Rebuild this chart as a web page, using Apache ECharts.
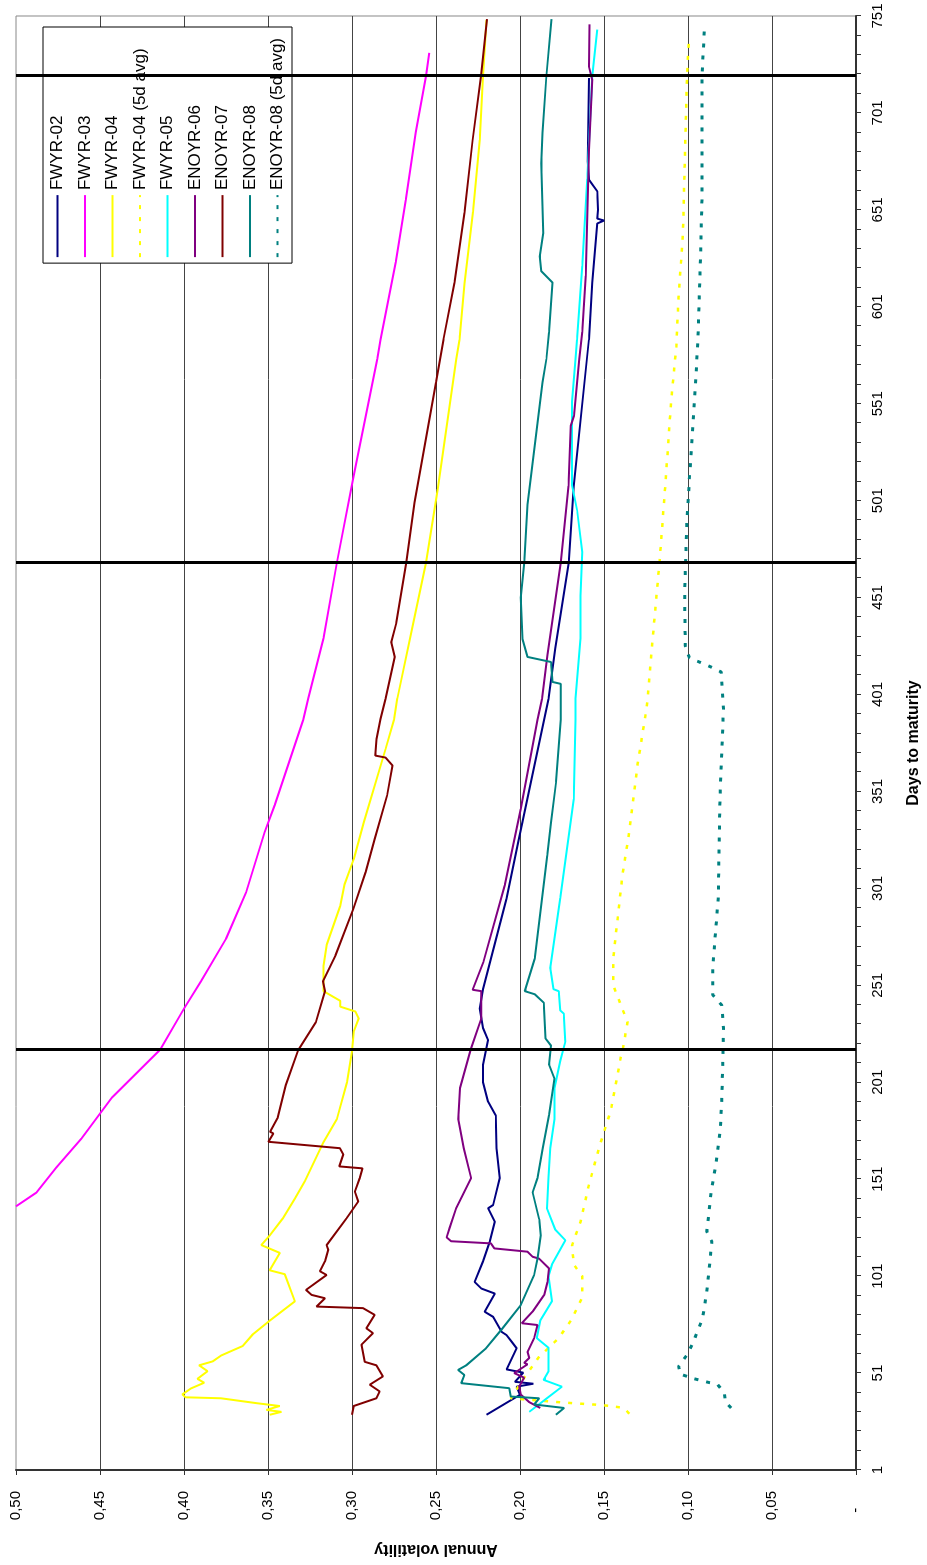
<!DOCTYPE html>
<html>
<head>
<meta charset="utf-8">
<script src="https://cdn.jsdelivr.net/npm/echarts@6/dist/echarts.min.js"></script>
<style>
html, body { margin: 0; padding: 0; background: #fff; overflow: hidden; }
#main {
    position: absolute; left: 0; top: 0;
    width: 1565px; height: 927px;
    transform-origin: 0 0;
    transform: translateY(1565px) rotate(-90deg);
}
</style>
</head>
<body>
<div id="main"></div>
<script>
// [days to maturity, annual volatility]
const fwyr02 = [[29.5,0.220],[39.8,0.200],[44,0.202],[45.5,0.192],[46.5,0.203],[51.2,0.198],[52.9,0.208],[63.8,0.202],[67.2,0.205],[70.6,0.208],[72.3,0.211],[80,0.216],[82.6,0.221],[92,0.215],[94.6,0.223],[98,0.227],[108.6,0.222],[118.8,0.218],[129,0.215],[136,0.219],[137.7,0.216],[151.6,0.212],[167,0.214],[184,0.2145],[191,0.219],[201,0.222],[210,0.222],[222.7,0.219],[229,0.222],[239,0.224],[249,0.222],[295.7,0.208],[325,0.201],[398.7,0.183],[424.8,0.179],[469,0.171],[508.6,0.168],[584,0.159],[613.5,0.157],[644,0.154],[645.5,0.150],[646.5,0.154],[651,0.1535],[660.6,0.154],[666.6,0.159],[676,0.1596],[719,0.159]];
const fwyr03 = [[137,0.500],[144,0.488],[157,0.476],[172,0.461],[193,0.443],[218,0.414],[239,0.400],[253,0.390],[275,0.375],[299,0.363],[330,0.352],[344,0.346],[388,0.329],[399,0.326],[430,0.317],[469,0.309],[514,0.299],[574,0.285],[584,0.283],[624,0.274],[656,0.268],[691,0.262],[720,0.256],[732,0.254]];
const fwyr04 = [[29.5,0.349],[31,0.342],[32,0.351],[34,0.343],[35.5,0.357],[38,0.378],[38.5,0.399],[40,0.401],[43,0.396],[46,0.388],[48,0.392],[52,0.386],[55,0.391],[57,0.383],[60,0.378],[65,0.365],[71,0.359],[78,0.349],[88,0.334],[102,0.340],[104,0.349],[113,0.343],[117,0.354],[122,0.349],[131,0.341],[141,0.334],[150,0.328],[170,0.317],[182,0.309],[201,0.303],[217,0.300],[227,0.299],[234,0.296],[237.5,0.298],[240,0.307],[243,0.307],[245,0.311],[248,0.317],[261,0.317],[272,0.315],[292,0.307],[303,0.3045],[316,0.299],[335,0.293],[373,0.280],[388,0.275],[399,0.273],[436,0.264],[469,0.256],[507,0.249],[574,0.238],[584,0.236],[613,0.233],[650,0.228],[687,0.224],[720,0.222],[749,0.220]];
const fwyr04Avg = [[30,0.135],[33,0.138],[34,0.146],[34.6,0.153],[35.5,0.169],[36,0.177],[38,0.2055],[48,0.198],[59,0.189],[69,0.177],[79,0.169],[90,0.163],[95,0.163],[101,0.163],[107,0.168],[117,0.169],[129,0.164],[148,0.159],[167,0.153],[181,0.148],[186,0.146],[200,0.143],[214,0.140],[217,0.139],[232,0.136],[251,0.1445],[265,0.1445],[308,0.139],[330,0.135],[365,0.130],[392,0.125],[399,0.124],[430,0.121],[469,0.117],[509,0.1135],[553,0.110],[580,0.107],[606,0.1056],[639,0.103],[674,0.102],[720,0.1006],[737,0.0996]];
const fwyr05 = [[31,0.1945],[38,0.184],[44,0.175],[47.5,0.186],[52,0.183],[64,0.183],[69,0.190],[78,0.188],[88,0.181],[101,0.183],[107,0.181],[119.5,0.173],[125,0.179],[136,0.184],[152,0.183],[167,0.182],[182,0.1795],[198,0.1795],[212,0.176],[222,0.173],[236.5,0.174],[238,0.176],[248,0.177],[249,0.180],[260,0.182],[296,0.176],[347,0.168],[388,0.167],[399,0.167],[430,0.164],[452,0.164],[474.5,0.163],[496,0.166],[509,0.169],[552,0.169],[574,0.167],[584,0.166],[622,0.163],[667,0.160],[720,0.157],[744,0.154]];
const enoyr06 = [[33,0.188],[36,0.1945],[40,0.1996],[44,0.2005],[48.6,0.1975],[51,0.2034],[55.5,0.1955],[56.3,0.1975],[58.8,0.1945],[62,0.1955],[69,0.1916],[75.8,0.1896],[76.7,0.1989],[82.7,0.1925],[91.3,0.1856],[98,0.1836],[105,0.1827],[110,0.1886],[111,0.1925],[113.6,0.1955],[115.3,0.2153],[117.9,0.2173],[119,0.241],[121,0.2437],[125.7,0.242],[136,0.238],[151.6,0.2291],[167,0.2335],[182,0.2367],[198,0.2357],[218,0.2293],[234,0.223],[248,0.223],[248.7,0.2282],[263,0.2218],[302.6,0.2091],[342,0.1996],[388,0.1896],[398.7,0.1869],[421.6,0.1836],[469,0.1757],[508.6,0.1712],[539.6,0.1698],[544.8,0.1679],[574,0.1648],[588,0.1629],[617,0.1609],[682,0.159],[718,0.157],[725,0.159],[746.7,0.1587]];
const enoyr07 = [[29.5,0.300],[34,0.299],[38,0.2855],[41.5,0.2835],[45,0.2894],[49.3,0.2816],[55,0.2855],[56.8,0.2924],[65.6,0.2944],[71.6,0.2875],[74.1,0.2914],[81,0.2865],[84.5,0.2935],[85.3,0.3211],[89.6,0.3161],[91.3,0.324],[93.9,0.3274],[101.6,0.3151],[103.5,0.3191],[108.6,0.3161],[114.6,0.3141],[117,0.3151],[130.8,0.3033],[139.5,0.2963],[144.6,0.2983],[151.6,0.2954],[156.6,0.2938],[157.6,0.3076],[163.7,0.3052],[167,0.3072],[170.3,0.3498],[174.6,0.3468],[175.5,0.3488],[182.4,0.3444],[199.5,0.3394],[217.5,0.3321],[232,0.3215],[248,0.3161],[253,0.3173],[266.5,0.3098],[290.5,0.2992],[309.6,0.2918],[326.6,0.2865],[349,0.2791],[364.4,0.2759],[368.5,0.2801],[369.5,0.2861],[378,0.2854],[388.4,0.283],[398.7,0.2801],[420.4,0.2746],[428,0.2766],[438,0.2736],[469,0.2677],[500,0.2628],[562,0.25],[584,0.2456],[613.5,0.239],[649.6,0.2331],[687,0.2282],[720,0.2232],[749.4,0.2196]];
const enoyr08 = [[29.5,0.1787],[33,0.1738],[34.8,0.1916],[38,0.1886],[38.9,0.2055],[43.2,0.2064],[45.8,0.235],[50,0.2331],[52.6,0.2369],[55,0.232],[63.8,0.2202],[74,0.2105],[86,0.1996],[101.6,0.1916],[110,0.1896],[122,0.1876],[130.4,0.1886],[144.2,0.1925],[151.6,0.1896],[167,0.1865],[184,0.1827],[203,0.1795],[210,0.1827],[220,0.1816],[223.6,0.1848],[242,0.1858],[246.4,0.1912],[248,0.1972],[264.8,0.1912],[318,0.1838],[335,0.1816],[356,0.1785],[388,0.1757],[406.5,0.1757],[407.5,0.1807],[417.8,0.1816],[420.4,0.1955],[429.6,0.1985],[451,0.1995],[469,0.1975],[499,0.1955],[562,0.1866],[574,0.1843],[587.8,0.1827],[613.5,0.1807],[619.4,0.1874],[627,0.1882],[639,0.1862],[675,0.1874],[690.8,0.1866],[720,0.1843],[749.4,0.1813]];
const enoyr08Avg = [[33,0.0743],[36.4,0.0779],[40.7,0.0783],[45,0.0823],[46.6,0.0897],[48.4,0.0977],[50.5,0.1046],[54.4,0.1056],[60.4,0.1006],[67.3,0.0967],[79.3,0.0913],[93,0.0888],[105,0.0874],[118.8,0.0858],[124,0.0888],[144.6,0.0862],[156.6,0.0838],[168.6,0.0819],[175.5,0.0809],[189,0.08],[208,0.0794],[229,0.0789],[240.7,0.0799],[246,0.0852],[261.5,0.0852],[295.7,0.082],[347,0.081],[393.6,0.0789],[412.6,0.0802],[415,0.0858],[420,0.0992],[426,0.1016],[453.8,0.102],[491.5,0.1006],[512,0.0992],[544.8,0.0967],[583,0.0941],[622,0.0927],[656,0.0917],[720,0.0917],[744.8,0.0902]];

const maturityDays = [218, 469, 720];
const dayLabels = [1, 51, 101, 151, 201, 251, 301, 351, 401, 451, 501, 551, 601, 651, 701, 751];
const dayTicks = [];
for (let d = 1; d <= 751; d += 10) dayTicks.push(d);

const font = '"Liberation Sans", Arial, sans-serif';
const chart = echarts.init(document.getElementById("main"));

function line(name, data, color, width, dash) {
    return {
        name: name,
        type: "line",
        data: data,
        showSymbol: false,
        symbol: "none",
        itemStyle: { color: color },
        lineStyle: { color: color, width: width, type: dash || "solid" },
        emphasis: { disabled: true },
    };
}

const series = [
    line("FWYR-02", fwyr02, "#000080", 2),
    line("FWYR-03", fwyr03, "#ff00ff", 2),
    line("FWYR-04", fwyr04, "#ffff00", 2),
    line("FWYR-04 (5d avg)", fwyr04Avg, "#ffff00", 2.5, [4, 8]),
    line("FWYR-05", fwyr05, "#00ffff", 2),
    line("ENOYR-06", enoyr06, "#800080", 2),
    line("ENOYR-07", enoyr07, "#800000", 2),
    line("ENOYR-08", enoyr08, "#008080", 2),
    line("ENOYR-08 (5d avg)", enoyr08Avg, "#008080", 3, [4, 8]),
];

series[0].markLine = {
    silent: true,
    animation: false,
    symbol: ["none", "none"],
    label: { show: false },
    lineStyle: { color: "#000", width: 3, type: "solid" },
    data: maturityDays.map(d => ({ xAxis: d })),
};

const option = {
    animation: false,
    backgroundColor: "#fff",
    textStyle: { fontFamily: font },
    grid: {
        left: 93, right: 16, top: 16, bottom: 69,
        show: true, borderColor: "#888", borderWidth: 1,
    },
    legend: {
        orient: "vertical",
        right: 27,
        top: 43,
        padding: [6, 11, 6, 5],
        itemWidth: 62,
        itemHeight: 14,
        itemGap: 10.5,
        selectedMode: false,
        backgroundColor: "#fff",
        borderColor: "#000",
        borderWidth: 1,
        borderRadius: 0,
        itemStyle: { opacity: 0, borderWidth: 0 },
        textStyle: { fontSize: 17, color: "#000", fontFamily: font },
    },
    xAxis: {
        type: "value",
        min: 1,
        max: 751,
        name: "Days to maturity",
        nameLocation: "middle",
        nameGap: 50,
        nameTextStyle: { fontWeight: "bold", fontSize: 16, color: "#000", fontFamily: font },
        axisLine: { show: true, lineStyle: { color: "#333", width: 2 } },
        axisTick: { show: true, length: 5, customValues: dayTicks, lineStyle: { color: "#333" } },
        axisLabel: { customValues: dayLabels, margin: 14, fontSize: 15, color: "#000", fontFamily: font },
        splitLine: { show: false },
    },
    yAxis: {
        type: "value",
        min: 0,
        max: 0.5,
        interval: 0.05,
        name: "Annual volatility",
        nameLocation: "middle",
        nameGap: 71,
        nameTextStyle: { fontWeight: "bold", fontSize: 16, color: "#000", fontFamily: font },
        axisLine: { show: true, lineStyle: { color: "#333", width: 2 } },
        axisTick: { show: true, length: 5, lineStyle: { color: "#333" } },
        axisLabel: {
            margin: 21, fontSize: 15, color: "#000", fontFamily: font,
            formatter: v => v === 0 ? "-    " : v.toFixed(2).replace(".", ","),
        },
        splitLine: { show: true, showMaxLine: false, lineStyle: { color: "#444", width: 1 } },
    },
    series: series,
};

chart.setOption(option);
</script>
</body>
</html>
